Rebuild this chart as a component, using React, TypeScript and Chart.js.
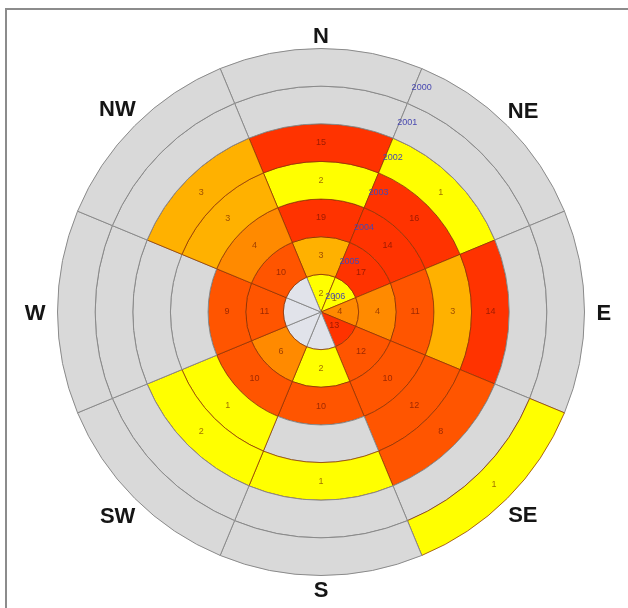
import React, { useEffect, useRef } from "react";
import { Chart, registerables } from "chart.js";

Chart.register(...registerables);

// Sectors (clockwise from north)
const directions = ["N", "NE", "E", "SE", "S", "SW", "W", "NW"];
// Rings, inner -> outer
const years = ["2006", "2005", "2004", "2003", "2002", "2001", "2000"];
// Values per ring, ordered like `directions` (0 = no observation)
const v2006 = [2, 1, 4, 13, 0, 0, 0, 0];
const v2005 = [3, 17, 4, 12, 2, 6, 11, 10];
const v2004 = [19, 14, 11, 10, 10, 10, 9, 4];
const v2003 = [2, 16, 3, 12, 0, 1, 0, 3];
const v2002 = [15, 1, 14, 8, 1, 2, 0, 3];
const v2001 = [0, 0, 0, 0, 0, 0, 0, 0];
const v2000 = [0, 0, 0, 1, 0, 0, 0, 0];
const ringValues = [v2006, v2005, v2004, v2003, v2002, v2001, v2000];

function cellColor(v: number, inner: boolean): string {
  if (v <= 0) return inner ? "#e1e3ea" : "#d9d9d9";
  if (v <= 2) return "#ffff00";
  if (v === 3) return "#ffb100";
  if (v <= 6) return "#ff8a00";
  if (v <= 12) return "#ff5500";
  return "#ff3300";
}

const labelsPlugin = {
  id: "roseLabels",
  afterDatasetsDraw(chart: any) {
    const ctx = chart.ctx as CanvasRenderingContext2D;
    let cx = 0;
    let cy = 0;
    let outer = 0;
    ctx.save();
    // cell values
    ctx.font = "9px 'Liberation Sans', Arial, sans-serif";
    ctx.textAlign = "center";
    ctx.textBaseline = "middle";
    ctx.fillStyle = "rgba(90,10,0,0.6)";
    chart.data.datasets.forEach((ds: any, di: number) => {
      const meta = chart.getDatasetMeta(di);
      meta.data.forEach((arc: any, i: number) => {
        const v = ds.values[i];
        cx = arc.x;
        cy = arc.y;
        if (di === 0) outer = Math.max(outer, arc.outerRadius);
        if (v > 0) {
          const p = arc.getCenterPoint();
          ctx.fillText(String(v), p.x, p.y);
        }
      });
    });
    // year labels along the N/NE boundary
    const a = (22.5 * Math.PI) / 180;
    ctx.fillStyle = "#4848b0";
    chart.data.datasets.forEach((ds: any, di: number) => {
      const arc = chart.getDatasetMeta(di).data[0];
      const r = (arc.innerRadius + arc.outerRadius) / 2;
      const x = cx + r * Math.sin(a) + 7;
      const y = cy - r * Math.cos(a) + 2;
      ctx.fillText(ds.label, x, y);
    });
    // direction labels
    ctx.font = "bold 22px 'Liberation Sans', Arial, sans-serif";
    ctx.fillStyle = "#151515";
    ctx.textBaseline = "alphabetic";
    const capH = 0.716 * 22;
    directions.forEach((d, i) => {
      const th = (i * 45 * Math.PI) / 180;
      const w = ctx.measureText(d).width;
      const s = Math.abs(Math.sin(th));
      const c = Math.abs(Math.cos(th));
      const gap = 6 + (s > 0.99 ? 6 : 0);
      const r = outer + gap + (w / 2) * s + (capH / 2) * c;
      const x = cx + r * Math.sin(th);
      const y = cy - r * Math.cos(th);
      ctx.fillText(d, x, y + capH / 2);
    });
    ctx.restore();
  },
};

export default function App() {
  const ref = useRef<HTMLCanvasElement | null>(null);
  useEffect(() => {
    if (!ref.current) return;
    const datasets = ringValues
      .map((vals, i) => ({
        label: years[i],
        data: directions.map(() => 1),
        values: vals,
        backgroundColor: vals.map((v) => cellColor(v, i === 0)),
        borderColor: vals.map((v) => (v > 0 ? "rgba(140,50,0,0.75)" : "#8a8a8a")),
        borderWidth: 1,
      }))
      .reverse();
    const chart = new Chart(ref.current, {
      type: "doughnut",
      data: { labels: directions, datasets: datasets as any },
      options: {
        responsive: false,
        animation: false,
        events: [],
        cutout: 0,
        rotation: -22.5,
        layout: { padding: { left: 57, right: 43, top: 48, bottom: 32 } },
        plugins: { legend: { display: false }, tooltip: { enabled: false } },
      } as any,
      plugins: [labelsPlugin],
    });
    return () => chart.destroy();
  }, []);
  return (
    <div>
      <div
        style={{
          position: "fixed",
          left: 5,
          top: 8,
          width: 700,
          height: 700,
          border: "2px solid #8c8c8c",
          background: "#ffffff",
        }}
      />
      <canvas
        ref={ref}
        width={628}
        height={608}
        style={{ position: "fixed", left: 0, top: 0, width: 628, height: 608 }}
      />
    </div>
  );
}
